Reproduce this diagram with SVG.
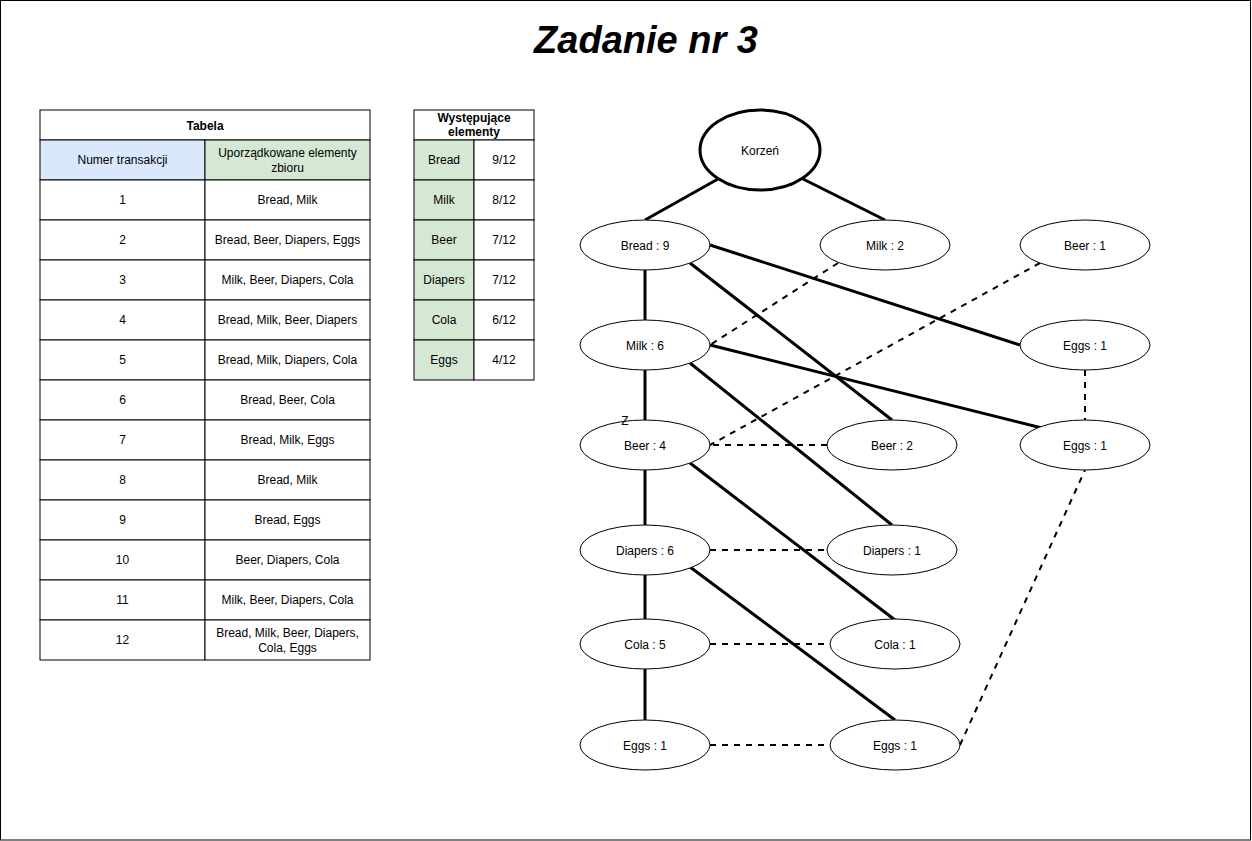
<svg xmlns="http://www.w3.org/2000/svg" width="1252" height="841" viewBox="0 0 1252 841">
<style>
text{font-family:"Liberation Sans",Arial,sans-serif;font-size:12px;fill:#000;text-anchor:middle;dominant-baseline:central}
.cell{fill:#fff;stroke:#000;stroke-width:1}
.blue{fill:#dae8fc;stroke:#000;stroke-width:1}
.green{fill:#d5e8d4;stroke:#000;stroke-width:1}
.node{fill:#fff;stroke:#000;stroke-width:1}
.solid{stroke:#000;stroke-width:3;fill:none}
.dash{stroke:#000;stroke-width:2;fill:none;stroke-dasharray:6 6}
.b{font-weight:bold}
</style>
<rect x="0.5" y="0.5" width="1250" height="839.5" fill="#fff" stroke="#000" stroke-width="1"/>
<text x="646" y="40" style="font-size:38px;font-weight:bold;font-style:italic">Zadanie nr 3</text>

<g id="table-transakcje">
<rect class="cell" x="40" y="110" width="330" height="30"/>
<text class="b" x="205" y="126">Tabela</text>
<rect class="blue" x="40" y="140" width="165" height="40"/>
<text x="122.5" y="160">Numer transakcji</text>
<rect class="green" x="205" y="140" width="165" height="40"/>
<text x="287.5" y="153">Uporządkowane elementy</text>
<text x="287.5" y="168">zbioru</text>
<rect class="cell" x="40" y="180" width="165" height="40"/><rect class="cell" x="205" y="180" width="165" height="40"/>
<text x="122.5" y="200">1</text><text x="287.5" y="200">Bread, Milk</text>
<rect class="cell" x="40" y="220" width="165" height="40"/><rect class="cell" x="205" y="220" width="165" height="40"/>
<text x="122.5" y="240">2</text><text x="287.5" y="240">Bread, Beer, Diapers, Eggs</text>
<rect class="cell" x="40" y="260" width="165" height="40"/><rect class="cell" x="205" y="260" width="165" height="40"/>
<text x="122.5" y="280">3</text><text x="287.5" y="280">Milk, Beer, Diapers, Cola</text>
<rect class="cell" x="40" y="300" width="165" height="40"/><rect class="cell" x="205" y="300" width="165" height="40"/>
<text x="122.5" y="320">4</text><text x="287.5" y="320">Bread, Milk, Beer, Diapers</text>
<rect class="cell" x="40" y="340" width="165" height="40"/><rect class="cell" x="205" y="340" width="165" height="40"/>
<text x="122.5" y="360">5</text><text x="287.5" y="360">Bread, Milk, Diapers, Cola</text>
<rect class="cell" x="40" y="380" width="165" height="40"/><rect class="cell" x="205" y="380" width="165" height="40"/>
<text x="122.5" y="400">6</text><text x="287.5" y="400">Bread, Beer, Cola</text>
<rect class="cell" x="40" y="420" width="165" height="40"/><rect class="cell" x="205" y="420" width="165" height="40"/>
<text x="122.5" y="440">7</text><text x="287.5" y="440">Bread, Milk, Eggs</text>
<rect class="cell" x="40" y="460" width="165" height="40"/><rect class="cell" x="205" y="460" width="165" height="40"/>
<text x="122.5" y="480">8</text><text x="287.5" y="480">Bread, Milk</text>
<rect class="cell" x="40" y="500" width="165" height="40"/><rect class="cell" x="205" y="500" width="165" height="40"/>
<text x="122.5" y="520">9</text><text x="287.5" y="520">Bread, Eggs</text>
<rect class="cell" x="40" y="540" width="165" height="40"/><rect class="cell" x="205" y="540" width="165" height="40"/>
<text x="122.5" y="560">10</text><text x="287.5" y="560">Beer, Diapers, Cola</text>
<rect class="cell" x="40" y="580" width="165" height="40"/><rect class="cell" x="205" y="580" width="165" height="40"/>
<text x="122.5" y="600">11</text><text x="287.5" y="600">Milk, Beer, Diapers, Cola</text>
<rect class="cell" x="40" y="620" width="165" height="40"/><rect class="cell" x="205" y="620" width="165" height="40"/>
<text x="122.5" y="640">12</text><text x="287.5" y="633">Bread, Milk, Beer, Diapers,</text><text x="287.5" y="648">Cola, Eggs</text>
</g>

<g id="table-wystepujace">
<rect class="cell" x="414" y="110" width="120" height="30"/>
<text class="b" x="474" y="118">Występujące</text>
<text class="b" x="474" y="132">elementy</text>
<rect class="green" x="414" y="140" width="60" height="40"/><rect class="cell" x="474" y="140" width="60" height="40"/>
<text x="444" y="160">Bread</text><text x="504" y="160">9/12</text>
<rect class="green" x="414" y="180" width="60" height="40"/><rect class="cell" x="474" y="180" width="60" height="40"/>
<text x="444" y="200">Milk</text><text x="504" y="200">8/12</text>
<rect class="green" x="414" y="220" width="60" height="40"/><rect class="cell" x="474" y="220" width="60" height="40"/>
<text x="444" y="240">Beer</text><text x="504" y="240">7/12</text>
<rect class="green" x="414" y="260" width="60" height="40"/><rect class="cell" x="474" y="260" width="60" height="40"/>
<text x="444" y="280">Diapers</text><text x="504" y="280">7/12</text>
<rect class="green" x="414" y="300" width="60" height="40"/><rect class="cell" x="474" y="300" width="60" height="40"/>
<text x="444" y="320">Cola</text><text x="504" y="320">6/12</text>
<rect class="green" x="414" y="340" width="60" height="40"/><rect class="cell" x="474" y="340" width="60" height="40"/>
<text x="444" y="360">Eggs</text><text x="504" y="360">4/12</text>
</g>

<g id="connectors">
<line class="solid" x1="718" y1="179" x2="645" y2="220"/>
<line class="solid" x1="803" y1="179" x2="885" y2="220"/>
<line class="solid" x1="645" y1="270" x2="645" y2="320"/>
<line class="solid" x1="690" y1="263" x2="892" y2="420"/>
<line class="solid" x1="710" y1="245" x2="1020" y2="345"/>
<line class="dash" x1="838" y1="263" x2="710" y2="345"/>
<line class="solid" x1="710" y1="345" x2="1042" y2="428"/>
<line class="solid" x1="690" y1="363" x2="892" y2="525"/>
<line class="solid" x1="645" y1="370" x2="645" y2="420"/>
<line class="dash" x1="1040" y1="263" x2="710" y2="445"/>
<line class="dash" x1="827" y1="445" x2="710" y2="445"/>
<line class="solid" x1="690" y1="463" x2="895" y2="620"/>
<line class="solid" x1="645" y1="470" x2="645" y2="525"/>
<line class="dash" x1="710" y1="550" x2="827" y2="550"/>
<line class="solid" x1="690" y1="567" x2="895" y2="720"/>
<line class="solid" x1="645" y1="575" x2="645" y2="619"/>
<line class="dash" x1="710" y1="644" x2="830" y2="644"/>
<line class="solid" x1="645" y1="669" x2="645" y2="720"/>
<line class="dash" x1="710" y1="745" x2="830" y2="745"/>
<line class="dash" x1="960" y1="745" x2="1085" y2="470"/>
<line class="dash" x1="1085" y1="370" x2="1085" y2="420"/>
</g>

<g id="korzen"><ellipse cx="760" cy="150" rx="60" ry="40" fill="#fff" stroke="#000" stroke-width="3"/><text x="760" y="151">Korzeń</text></g>
<g id="bread9"><ellipse class="node" cx="645" cy="245" rx="65" ry="25"/><text x="645" y="246">Bread : 9</text></g>
<g id="milk2"><ellipse class="node" cx="885" cy="245" rx="65" ry="25"/><text x="885" y="246">Milk : 2</text></g>
<g id="beer1"><ellipse class="node" cx="1085" cy="245" rx="65" ry="25"/><text x="1085" y="246">Beer : 1</text></g>
<g id="milk6"><ellipse class="node" cx="645" cy="345" rx="65" ry="25"/><text x="645" y="346">Milk : 6</text></g>
<g id="eggs1a"><ellipse class="node" cx="1085" cy="345" rx="65" ry="25"/><text x="1085" y="346">Eggs : 1</text></g>
<g id="beer4"><ellipse class="node" cx="645" cy="445" rx="65" ry="25"/><text x="645" y="446">Beer : 4</text></g>
<g id="beer2"><ellipse class="node" cx="892" cy="445" rx="65" ry="25"/><text x="892" y="446">Beer : 2</text></g>
<g id="eggs1b"><ellipse class="node" cx="1085" cy="445" rx="65" ry="25"/><text x="1085" y="446">Eggs : 1</text></g>
<g id="diapers6"><ellipse class="node" cx="645" cy="550" rx="65" ry="25"/><text x="645" y="551">Diapers : 6</text></g>
<g id="diapers1"><ellipse class="node" cx="892" cy="550" rx="65" ry="25"/><text x="892" y="551">Diapers : 1</text></g>
<g id="cola5"><ellipse class="node" cx="645" cy="644" rx="65" ry="25"/><text x="645" y="645">Cola : 5</text></g>
<g id="cola1"><ellipse class="node" cx="895" cy="644" rx="65" ry="25"/><text x="895" y="645">Cola : 1</text></g>
<g id="eggs1c"><ellipse class="node" cx="645" cy="745" rx="65" ry="25"/><text x="645" y="746">Eggs : 1</text></g>
<g id="eggs1d"><ellipse class="node" cx="895" cy="745" rx="65" ry="25"/><text x="895" y="746">Eggs : 1</text></g>
<text x="625" y="421">Z</text>
</svg>
